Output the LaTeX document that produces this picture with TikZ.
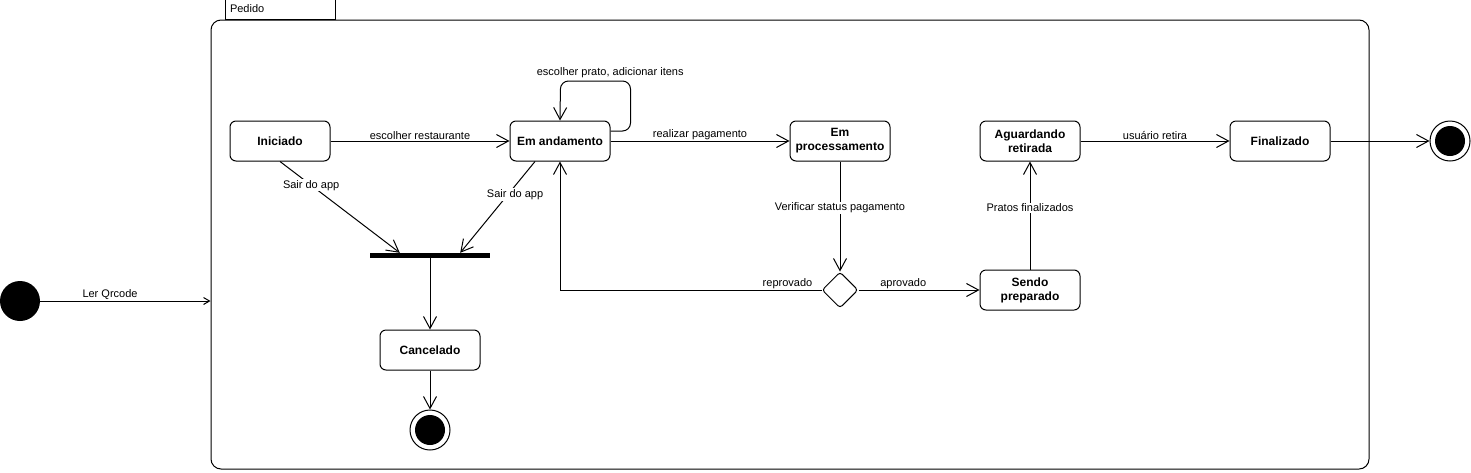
\documentclass[tikz,border=0pt]{standalone}
\usepackage{fontspec}
\setmainfont{Liberation Sans}
\usetikzlibrary{arrows.meta,shapes.geometric,calc}
\begin{document}
\begin{tikzpicture}[x=1pt,y=-1pt,
  state/.style={draw, line width=1pt, rounded corners=6pt, minimum width=100pt, minimum height=40pt, align=center, font=\bfseries\fontsize{12}{14}\selectfont, inner sep=2pt},
  lbl/.style={font=\fontsize{11}{13}\selectfont, inner sep=1pt},
  wlbl/.style={lbl, fill=white},
  arr/.style={line width=1pt, -{Straight Barb[length=12pt,width=13pt]}},
  smallarr/.style={line width=1pt, -{Straight Barb[length=6pt,width=7pt]}},
  finalst/.style={circle, draw, line width=1pt, minimum size=40pt, inner sep=0pt,
    path picture={\fill[black] (path picture bounding box.center) circle (15pt);}},
  initst/.style={circle, fill=black, minimum size=40pt, inner sep=0pt},
  forkbar/.style={rectangle, fill=black, minimum width=120pt, minimum height=5pt, inner sep=0pt},
  choice/.style={diamond, draw, line width=1pt, minimum width=36pt, minimum height=36pt, inner sep=0pt, rounded corners=3pt}
]
\useasboundingbox (0,0) rectangle (1471,472);

% container
\node[draw, line width=1pt, rounded corners=10pt, minimum width=1158pt, minimum height=449pt, inner sep=0pt] (pedido) at (790,244.5) {};
\node[draw, line width=1pt, minimum width=110pt, minimum height=20pt, text width=100pt, align=left, inner xsep=5pt, inner ysep=0pt, anchor=south west, font=\fontsize{11}{13}\selectfont] (tab) at ([xshift=14pt]pedido.north west) {Pedido};

% states
\node[initst] (start) at (20,301) {};
\node[state] (ini) at (280,141) {Iniciado};
\node[state] (and) at (560,141) {Em andamento};
\node[state] (proc) at (840,141) {Em\\processamento};
\node[state] (agu) at (1030,141) {Aguardando\\retirada};
\node[state] (fin) at (1280,141) {Finalizado};
\node[state] (prep) at (1030,290) {Sendo\\preparado};
\node[state] (canc) at (430,350) {Cancelado};
\node[forkbar] (bar) at (430,255.5) {};
\node[choice] (dia) at (840,290) {};
\node[finalst] (end1) at (430,430) {};
\node[finalst] (end2) at (1450,141) {};

% transitions
\draw[smallarr] (start.east) -- node[lbl, pos=0.41, above] {Ler Qrcode} (start.east -| pedido.west);
\draw[arr] (ini.east) -- node[lbl, above] {escolher restaurante} (and.west);
\draw[arr, rounded corners=8pt] ([yshift=10pt]and.east) -- ++(20,0) -- ++(0,-50)
  -- node[lbl, pos=0.29, above=2pt] {escolher prato, adicionar itens} ++(-70,0) -- (and.north);
\draw[arr] (and.east) -- node[lbl, above] {realizar pagamento} (proc.west);
\draw[arr] (proc.south) -- node[wlbl, pos=0.42] {Verificar status pagamento} (dia.north);
\draw[arr] (dia.east) -- node[lbl, pos=0.37, above] {aprovado} (prep.west);
\draw[arr] (dia.west) -| node[lbl, pos=0.065, above] {reprovado} (and.south);
\draw[arr] (prep.north) -- node[wlbl, pos=0.57] {Pratos finalizados} (agu.south);
\draw[arr] (agu.east) -- node[lbl, above] {usuário retira} (fin.west);
\draw[arr] (fin.east) -- (end2.west);
\draw[arr] (ini.south) -- node[wlbl, pos=0.26] {Sair do app} ([xshift=30pt]bar.north west);
\draw[arr] ([xshift=-25pt]and.south) -- node[wlbl, pos=0.36, xshift=7pt] {Sair do app} ([xshift=-30pt]bar.north east);
\draw[arr] (bar.south) -- (canc.north);
\draw[arr] (canc.south) -- (end1.north);
\end{tikzpicture}
\end{document}
